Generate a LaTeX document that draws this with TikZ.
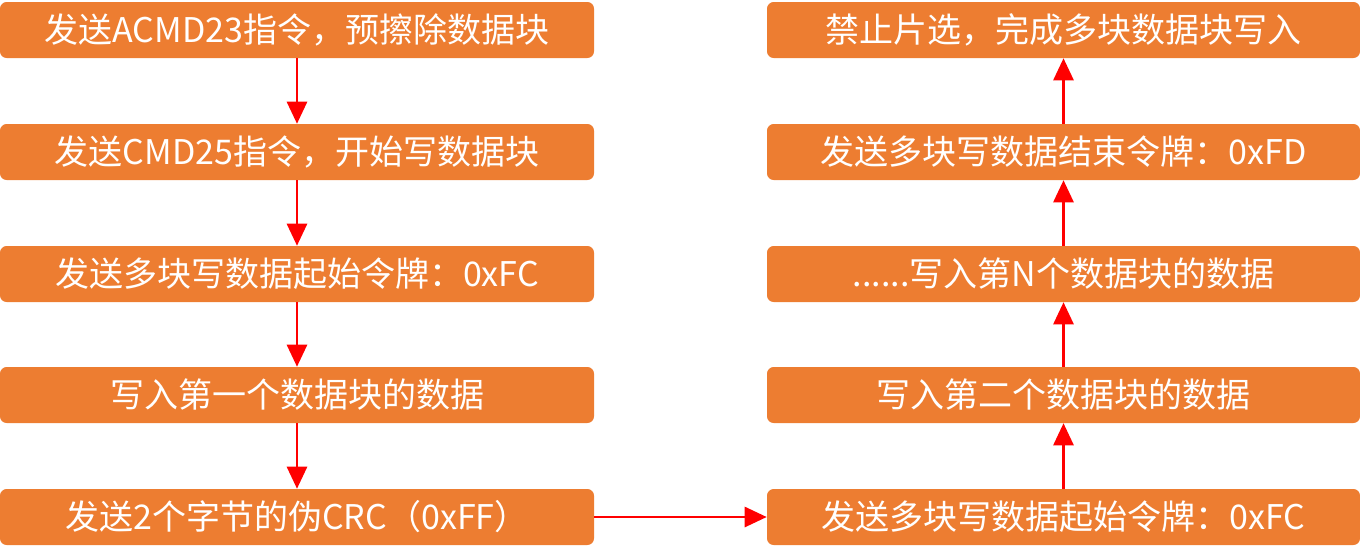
\documentclass[tikz,border=0pt]{standalone}
\usepackage{fontspec}
\setmainfont{Noto Sans CJK SC}
\usetikzlibrary{arrows.meta}
\definecolor{boxor}{HTML}{ED7D31}
\begin{document}
\begin{tikzpicture}[x=0.75pt,y=-0.75pt,
  stepbox/.style={fill=boxor,draw=none,rounded corners=5pt,minimum height=42pt,
    inner sep=0pt,text=white,font=\fontsize{25.5}{28}\selectfont,anchor=center},
  lbox/.style={stepbox,minimum width=445.5pt},
  rbox/.style={stepbox,minimum width=444.75pt},
  flow/.style={draw=red,line width=2pt,-{Triangle[width=15pt,length=16.5pt]}}]
\useasboundingbox (0,0) rectangle (1360,558);
\node[lbox] (l1) at (297,30) {发送ACMD23指令，预擦除数据块};
\node[lbox] (l2) at (297,152) {发送CMD25指令，开始写数据块};
\node[lbox] (l3) at (297,274) {发送多块写数据起始令牌：0xFC};
\node[lbox] (l4) at (297,395) {写入第一个数据块的数据};
\node[lbox] (l5) at (297,517) {发送2个字节的伪CRC（0xFF）};
\node[rbox] (r1) at (1063.5,517) {发送多块写数据起始令牌：0xFC};
\node[rbox] (r2) at (1063.5,395) {写入第二个数据块的数据};
\node[rbox] (r3) at (1063.5,274) {......写入第N个数据块的数据};
\node[rbox] (r4) at (1063.5,152) {发送多块写数据结束令牌：0xFD};
\node[rbox] (r5) at (1063.5,30) {禁止片选，完成多块数据块写入};
\draw[flow] (l1) -- (l2);
\draw[flow] (l2) -- (l3);
\draw[flow] (l3) -- (l4);
\draw[flow] (l4) -- (l5);
\draw[flow] (l5) -- (r1);
\draw[flow] (r1) -- (r2);
\draw[flow] (r2) -- (r3);
\draw[flow] (r3) -- (r4);
\draw[flow] (r4) -- (r5);
\end{tikzpicture}
\end{document}
